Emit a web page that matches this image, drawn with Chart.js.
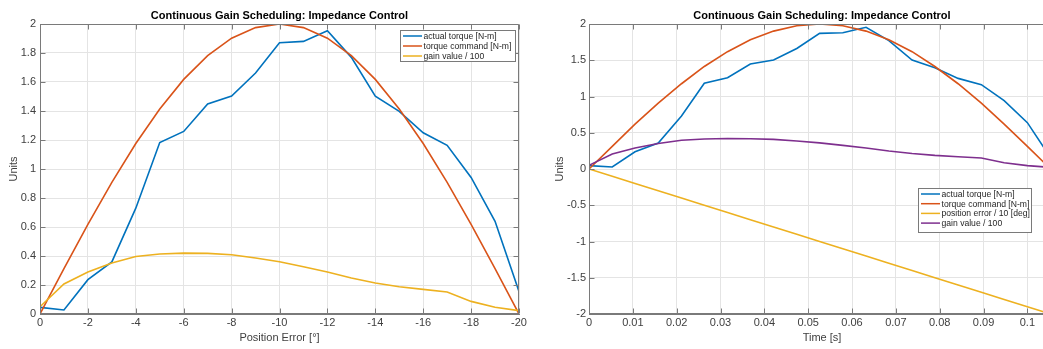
<!DOCTYPE html>
<html>
<head>
<meta charset="utf-8">
<script src="https://cdn.jsdelivr.net/npm/chart.js@4.4.1/dist/chart.umd.min.js"></script>
<style>
html,body{margin:0;padding:0;background:#fff;overflow:hidden;width:1043px;height:349px;}
#wrap{position:relative;width:1043px;height:349px;overflow:hidden;background:#fff;}
canvas{position:absolute;top:0;}
#c1{left:0;}
#c2{left:523px;}
</style>
</head>
<body>
<div id="wrap">
<canvas id="c1" width="530" height="349"></canvas>
<canvas id="c2" width="541" height="349"></canvas>
</div>
<script>
// ---------- data ----------
const positionError = [0,-1,-2,-3,-4,-5,-6,-7,-8,-9,-10,-11,-12,-13,-14,-15,-16,-17,-18,-19,-20];
const timeSec = [0,0.0053,0.0105,0.0158,0.0211,0.0263,0.0316,0.0368,0.0421,0.0474,0.0526,0.0579,0.0632,0.0684,0.0737,0.0789,0.0842,0.0895,0.0947,0.1,0.1053];
const actualTorque = [0.046,0.028,0.237,0.359,0.73,1.183,1.259,1.448,1.503,1.662,1.871,1.88,1.954,1.77,1.503,1.397,1.25,1.163,0.942,0.639,0.156];
const torqueCommand = [0,0.313,0.618,0.908,1.176,1.414,1.618,1.782,1.902,1.975,2.0,1.975,1.902,1.782,1.618,1.414,1.176,0.908,0.618,0.313,0];
const gainValue100 = [0.05,0.207,0.29,0.352,0.397,0.414,0.42,0.418,0.409,0.386,0.36,0.326,0.29,0.248,0.214,0.188,0.17,0.152,0.087,0.046,0.023];
const positionError10 = [0,-0.1,-0.2,-0.3,-0.4,-0.5,-0.6,-0.7,-0.8,-0.9,-1.0,-1.1,-1.2,-1.3,-1.4,-1.5,-1.6,-1.7,-1.8,-1.9,-2.0];

const leftXTicks = [0,-2,-4,-6,-8,-10,-12,-14,-16,-18,-20];
const leftYTicks = [0,0.2,0.4,0.6,0.8,1,1.2,1.4,1.6,1.8,2];
const rightXTicks = [0,0.01,0.02,0.03,0.04,0.05,0.06,0.07,0.08,0.09,0.1];
const rightYTicks = [-2,-1.5,-1,-0.5,0,0.5,1,1.5,2];

const chartTitle = 'Continuous Gain Scheduling: Impedance Control';
const leftXTitle = 'Position Error [°]';
const rightXTitle = 'Time [s]';
const yTitle = 'Units';
const labelsLeft = ['actual torque [N-m]','torque command [N-m]','gain value / 100'];
const labelsRight = ['actual torque [N-m]','torque command [N-m]','position error / 10 [deg]','gain value / 100'];

// ---------- styles ----------
const BLUE = '#0072BD', ORANGE = '#D95319', YELLOW = '#EDB120', PURPLE = '#7E2F8E';
const FONT = '"Liberation Sans", Arial, Helvetica, sans-serif';
Chart.defaults.font.family = FONT;
Chart.defaults.font.size = 11;
Chart.defaults.color = '#404040';

function fmt(v){ return String(Math.round(v*10000)/10000); }
function pts(xs, ys){ return xs.map((x,i)=>({x:x, y:ys[i]})); }

const decor = {
  id: 'decor',
  afterDatasetsDraw(chart, args, o) {
    const ctx = chart.ctx, a = chart.chartArea;
    ctx.save();
    ctx.strokeStyle = o.axisColor; ctx.lineWidth = 1;
    const L = Math.round(a.left)+0.5, R = Math.round(a.right)-0.5;
    const T = Math.round(a.top)+0.5, B = Math.round(a.bottom)-0.5;
    ctx.beginPath();
    ctx.rect(L, T, R-L, B-T);
    const xs = chart.scales.x, ys = chart.scales.y;
    xs.ticks.forEach(t => {
      const p = Math.round(xs.getPixelForValue(t.value))+0.5;
      ctx.moveTo(p, B); ctx.lineTo(p, B-5);
      ctx.moveTo(p, T); ctx.lineTo(p, T+5);
    });
    ys.ticks.forEach(t => {
      const p = Math.round(ys.getPixelForValue(t.value))+0.5;
      ctx.moveTo(L, p); ctx.lineTo(L+5, p);
      ctx.moveTo(R, p); ctx.lineTo(R-5, p);
    });
    ctx.stroke();
    // title
    ctx.fillStyle = '#000';
    ctx.font = 'bold 11px ' + FONT;
    ctx.textAlign = 'center'; ctx.textBaseline = 'alphabetic';
    ctx.fillText(o.title, (a.left+a.right)/2, o.titleY);
    // legend
    const lg = o.legend;
    ctx.fillStyle = '#fff';
    ctx.fillRect(lg.x, lg.y, lg.w, lg.h);
    ctx.strokeStyle = o.axisColor;
    ctx.strokeRect(lg.x+0.5, lg.y+0.5, lg.w-1, lg.h-1);
    ctx.font = '8.6px ' + FONT;
    ctx.textAlign = 'left'; ctx.textBaseline = 'middle';
    chart.data.datasets.forEach((ds, i) => {
      const y = lg.y + lg.first + i*lg.row;
      ctx.strokeStyle = ds.borderColor; ctx.lineWidth = 1.5;
      ctx.beginPath(); ctx.moveTo(lg.x+3, y); ctx.lineTo(lg.x+22, y); ctx.stroke();
      ctx.fillStyle = '#262626';
      ctx.fillText(ds.label, lg.x+23.5, y+0.5);
    });
    ctx.restore();
  }
};

function ds(label, data, color, i){
  return {label, data, borderColor: color, backgroundColor: color, borderWidth: 1.6,
          pointRadius: 0, tension: 0, fill: false, order: -i};
}

function makeChart(id, cfg){
  return new Chart(document.getElementById(id), {
    type: 'line',
    data: { datasets: cfg.datasets },
    options: {
      responsive: false, animation: false, devicePixelRatio: 1,
      layout: { padding: { left: 0, right: cfg.padRight, top: 24, bottom: 0 } },
      plugins: {
        legend: { display: false }, tooltip: { enabled: false },
        decor: { title: chartTitle, titleY: 19, axisColor: '#7a7a7a', legend: cfg.legend }
      },
      scales: {
        x: {
          type: 'linear', min: cfg.xMin, max: cfg.xMax, reverse: cfg.reverse,
          afterBuildTicks: s => { s.ticks = cfg.xTicks.map(v => ({value: v})); },
          afterFit: s => { s.height = 35; },
          ticks: { padding: 2, callback: v => fmt(v), autoSkip: false, maxRotation: 0 },
          grid: { color: '#e4e4e4', drawTicks: false },
          border: { display: true, color: '#7a7a7a' },
          title: { display: true, text: cfg.xTitle, color: '#404040', font: { size: 11 }, padding: { top: 0, bottom: 4 } }
        },
        y: {
          type: 'linear', min: cfg.yMin, max: cfg.yMax,
          afterBuildTicks: s => { s.ticks = cfg.yTicks.map(v => ({value: v})); },
          afterFit: s => { s.width = cfg.yWidth; },
          ticks: { padding: cfg.yPad, callback: v => fmt(v), autoSkip: false },
          grid: { color: '#e4e4e4', drawTicks: false },
          border: { display: true, color: '#7a7a7a' },
          title: { display: true, text: yTitle, color: '#404040', font: { size: 11 }, padding: { top: cfg.yTitlePad, bottom: 0 } }
        }
      }
    },
    plugins: [decor]
  });
}

makeChart('c1', {
  datasets: [
    ds(labelsLeft[0], pts(positionError, actualTorque), BLUE, 0),
    ds(labelsLeft[1], pts(positionError, torqueCommand), ORANGE, 1),
    ds(labelsLeft[2], pts(positionError, gainValue100), YELLOW, 2)
  ],
  xMin: -20, xMax: 0, reverse: true, xTicks: leftXTicks, xTitle: leftXTitle,
  yMin: 0, yMax: 2, yTicks: leftYTicks, yWidth: 40, yPad: 4, yTitlePad: 7,
  padRight: 11,
  legend: { x: 400, y: 30, w: 116, h: 32, first: 6, row: 10 }
});

makeChart('c2', {
  datasets: [
    ds(labelsRight[0], pts(timeSec, actualTorque), BLUE, 0),
    ds(labelsRight[1], pts(timeSec, torqueCommand), ORANGE, 1),
    ds(labelsRight[2], pts(timeSec, positionError10), YELLOW, 2),
    ds(labelsRight[3], pts(timeSec, gainValue100), PURPLE, 3)
  ],
  xMin: 0, xMax: 0.1063, reverse: false, xTicks: rightXTicks, xTitle: rightXTitle,
  yMin: -2, yMax: 2, yTicks: rightYTicks, yWidth: 66, yPad: 3, yTitlePad: 30,
  padRight: 9,
  legend: { x: 395, y: 188, w: 114, h: 45, first: 6, row: 9.7 }
});
</script>
</body>
</html>
